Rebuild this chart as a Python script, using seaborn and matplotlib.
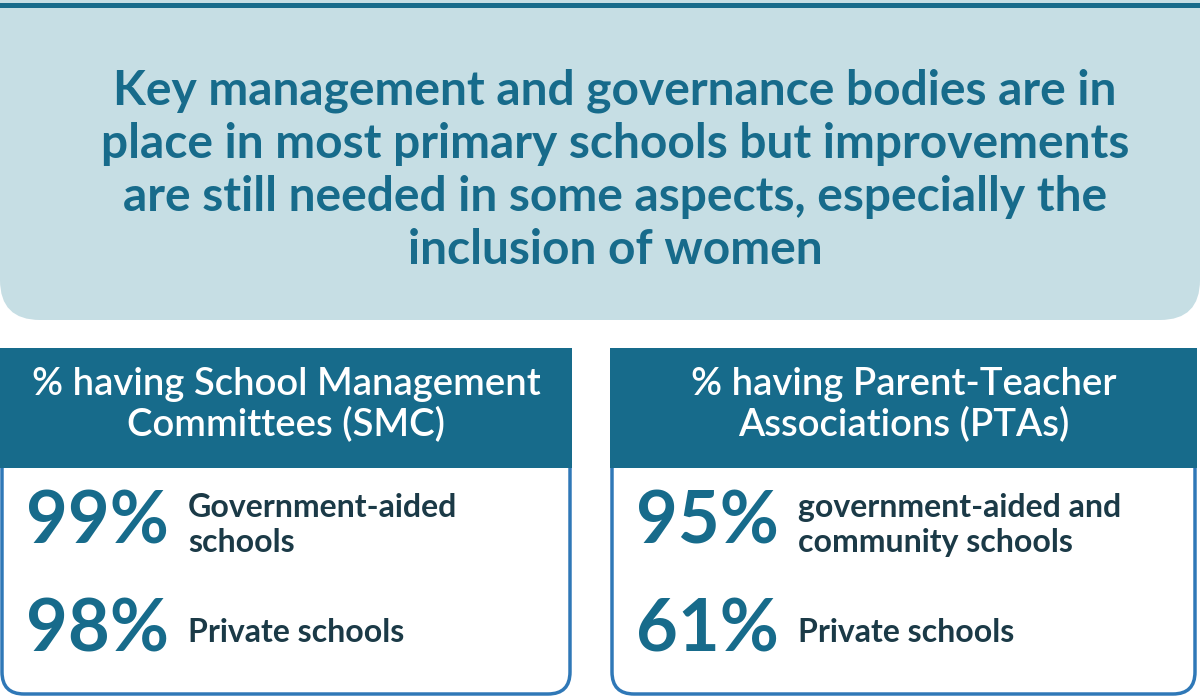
import matplotlib
matplotlib.use("Agg")
import matplotlib.pyplot as plt
from matplotlib.patches import FancyBboxPatch, Rectangle
import seaborn as sns

sns.set_theme(style="white")
plt.rcParams['font.family'] = ['Lato', 'DejaVu Sans']

title = ("Key management and governance bodies are in\n"
         "place in most primary schools but improvements\n"
         "are still needed in some aspects, especially the\n"
         "inclusion of women")
headers = ["% having School Management\nCommittees (SMC)",
           "% having Parent-Teacher\nAssociations (PTAs)"]
values = [[99, 98], [95, 61]]
labels = [["Government-aided\nschools", "Private schools"],
          ["government-aided and\ncommunity schools", "Private schools"]]

TEAL = "#176b8b"
LIGHT = "#c6dee4"
BORDER = "#2f78b7"
DARK = "#1b3a47"

fig = plt.figure(figsize=(12, 6.98), dpi=100)
ax = fig.add_axes([0, 0, 1, 1])
ax.set_xlim(0, 1200)
ax.set_ylim(698, 0)
ax.axis("off")

ax.add_patch(FancyBboxPatch((0, -40), 1200, 360, boxstyle="round,pad=0,rounding_size=40",
                            fc=LIGHT, ec="none"))
ax.add_patch(Rectangle((0, 3), 1200, 5, fc=TEAL, ec="none"))
ax.text(615, 170, title, ha="center", va="center", color=TEAL, fontsize=34.5,
        fontweight="bold", linespacing=1.25)

panels = [(2, 568), (612, 583)]
for i, (x0, w) in enumerate(panels):
    ax.add_patch(FancyBboxPatch((x0, 420), w, 274, boxstyle="round,pad=0,rounding_size=22",
                                fc="white", ec=BORDER, lw=2.5))
    ax.add_patch(Rectangle((x0 - 2, 348), w + 4, 120, fc=TEAL, ec="none"))
    ax.text(x0 + w / 2, 405, headers[i], ha="center", va="center", color="white",
            fontsize=27.5, fontweight="semibold", linespacing=1.15)
    for j, (v, lab) in enumerate(zip(values[i], labels[i])):
        y = 523 + j * 108
        ax.text(x0 + 24, y, f"{v}%", ha="left", va="center", color=TEAL,
                fontsize=52, fontweight="bold")
        ax.text(x0 + 186, y + 2, lab, ha="left", va="center", color=DARK,
                fontsize=23, fontweight="bold", linespacing=1.25)

fig.savefig("out.png", dpi=100)
